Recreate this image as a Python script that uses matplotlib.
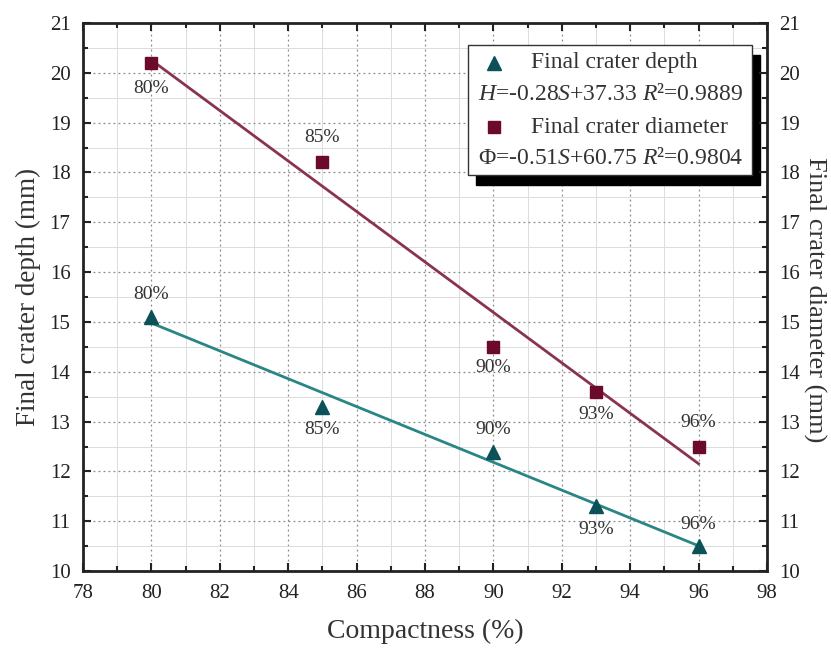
import matplotlib
matplotlib.use("Agg")
import matplotlib.pyplot as plt
from matplotlib.patches import Rectangle
from matplotlib.ticker import MultipleLocator
import numpy as np

plt.rcParams["font.family"] = ["Liberation Serif", "DejaVu Serif"]
plt.rcParams["mathtext.fontset"] = "custom"
plt.rcParams["mathtext.rm"] = "Liberation Serif"
plt.rcParams["mathtext.it"] = "Liberation Serif:italic"

# data
compactness = [80, 85, 90, 93, 96]
depth = [15.1, 13.3, 12.4, 11.3, 10.5]
diameter = [20.2, 18.2, 14.5, 13.6, 12.5]
labels = ["80%", "85%", "90%", "93%", "96%"]

# label offsets in pixels (positive = above the point)
depth_off = [22, -23, 22, -23, 22]
diam_off = [-26, 25, -21, -23, 24]

teal_mk = "#0c5058"
teal_ln = "#2a8585"
red_mk = "#6c0a2c"
red_ln = "#8a3350"
txt = "#333333"

fig = plt.figure(figsize=(8.31, 6.55), dpi=100)
ax = fig.add_axes([0.0999, 0.128, 0.823, 0.837])

# grid
ax.grid(which="major", color="#8a8a8a", linestyle=(0, (1.5, 2.5)), linewidth=0.9)
ax.grid(which="minor", color="#dcdcdc", linestyle="-", linewidth=0.7)
ax.set_axisbelow(True)

# fit lines
S = np.array(compactness, dtype=float)
p_d = np.polyfit(S, depth, 1)
p_f = np.polyfit(S, diameter, 1)
ax.plot(S[[0, -1]], np.polyval(p_d, S[[0, -1]]), color=teal_ln, lw=2, zorder=3)
ax.plot(S[[0, -1]], np.polyval(p_f, S[[0, -1]]), color=red_ln, lw=2, zorder=3)

ax.plot(compactness, depth, "^", color=teal_mk, ms=10, ls="none", zorder=4)
ax.plot(compactness, diameter, "s", color=red_mk, ms=8.5, ls="none", zorder=4)

for x, y, t, o in zip(compactness, depth, labels, depth_off):
    ax.annotate(t, (x, y), xytext=(0, o), textcoords="offset pixels",
                ha="center", va="center", fontsize=14, color=txt)
for x, y, t, o in zip(compactness, diameter, labels, diam_off):
    ax.annotate(t, (x, y), xytext=(0, o), textcoords="offset pixels",
                ha="center", va="center", fontsize=14, color=txt)

ax.set_xlim(78, 98)
ax.set_ylim(10, 21)
ax.xaxis.set_major_locator(MultipleLocator(2))
ax.xaxis.set_minor_locator(MultipleLocator(1))
ax.yaxis.set_major_locator(MultipleLocator(1))
ax.yaxis.set_minor_locator(MultipleLocator(0.5))
ax.tick_params(which="both", direction="in", top=True, right=True,
               labelsize=15, width=1.5, colors="#222222", pad=9)
ax.tick_params(which="major", length=6)
ax.tick_params(which="minor", length=3.5)
for sp in ax.spines.values():
    sp.set_linewidth(2)
    sp.set_color("#222222")

ax.set_xlabel("Compactness (%)", fontsize=20, color=txt, labelpad=12)
ax.set_ylabel("Final crater depth (mm)", fontsize=19.5, color=txt, labelpad=6)

ax2 = ax.twinx()
ax2.set_ylim(10, 21)
ax2.yaxis.set_major_locator(MultipleLocator(1))
ax2.yaxis.set_minor_locator(MultipleLocator(0.5))
ax2.tick_params(which="both", direction="in", labelsize=15, width=1.5,
                colors="#222222", pad=9)
ax2.tick_params(which="major", length=6)
ax2.tick_params(which="minor", length=3.5)
for sp in ax2.spines.values():
    sp.set_visible(False)
fig.text(0.980, 0.542, "Final crater diameter (mm)", fontsize=19, color=txt,
         rotation=270, ha="center", va="center")

# legend box with black shadow
lx0, ly0, lw, lh = 0.563, 0.723, 0.415, 0.237
ax.add_patch(Rectangle((lx0 + 0.012, ly0 - 0.018), lw, lh, transform=ax.transAxes,
                       facecolor="black", edgecolor="black", zorder=6))
ax.add_patch(Rectangle((lx0, ly0), lw, lh, transform=ax.transAxes,
                       facecolor="white", edgecolor="#333333", lw=1, zorder=7))
ax.plot([0.601], [0.927], "^", color=teal_mk, ms=10, transform=ax.transAxes, zorder=8)
ax.plot([0.601], [0.810], "s", color=red_mk, ms=8.5, transform=ax.transAxes, zorder=8)
ax.text(0.655, 0.927, "Final crater depth", transform=ax.transAxes,
        ha="left", va="center", fontsize=17, color=txt, zorder=8)
ax.text(0.655, 0.810, "Final crater diameter", transform=ax.transAxes,
        ha="left", va="center", fontsize=17, color=txt, zorder=8)
ax.text(0.771, 0.870, r"$H$=-0.28$S$+37.33 $R$²=0.9889", transform=ax.transAxes,
        ha="center", va="center", fontsize=17, color=txt, zorder=8)
ax.text(0.771, 0.752, r"$\mathit{\Phi}$=-0.51$S$+60.75 $R$²=0.9804", transform=ax.transAxes,
        ha="center", va="center", fontsize=17, color=txt, zorder=8)

fig.savefig("out.png", dpi=100)
